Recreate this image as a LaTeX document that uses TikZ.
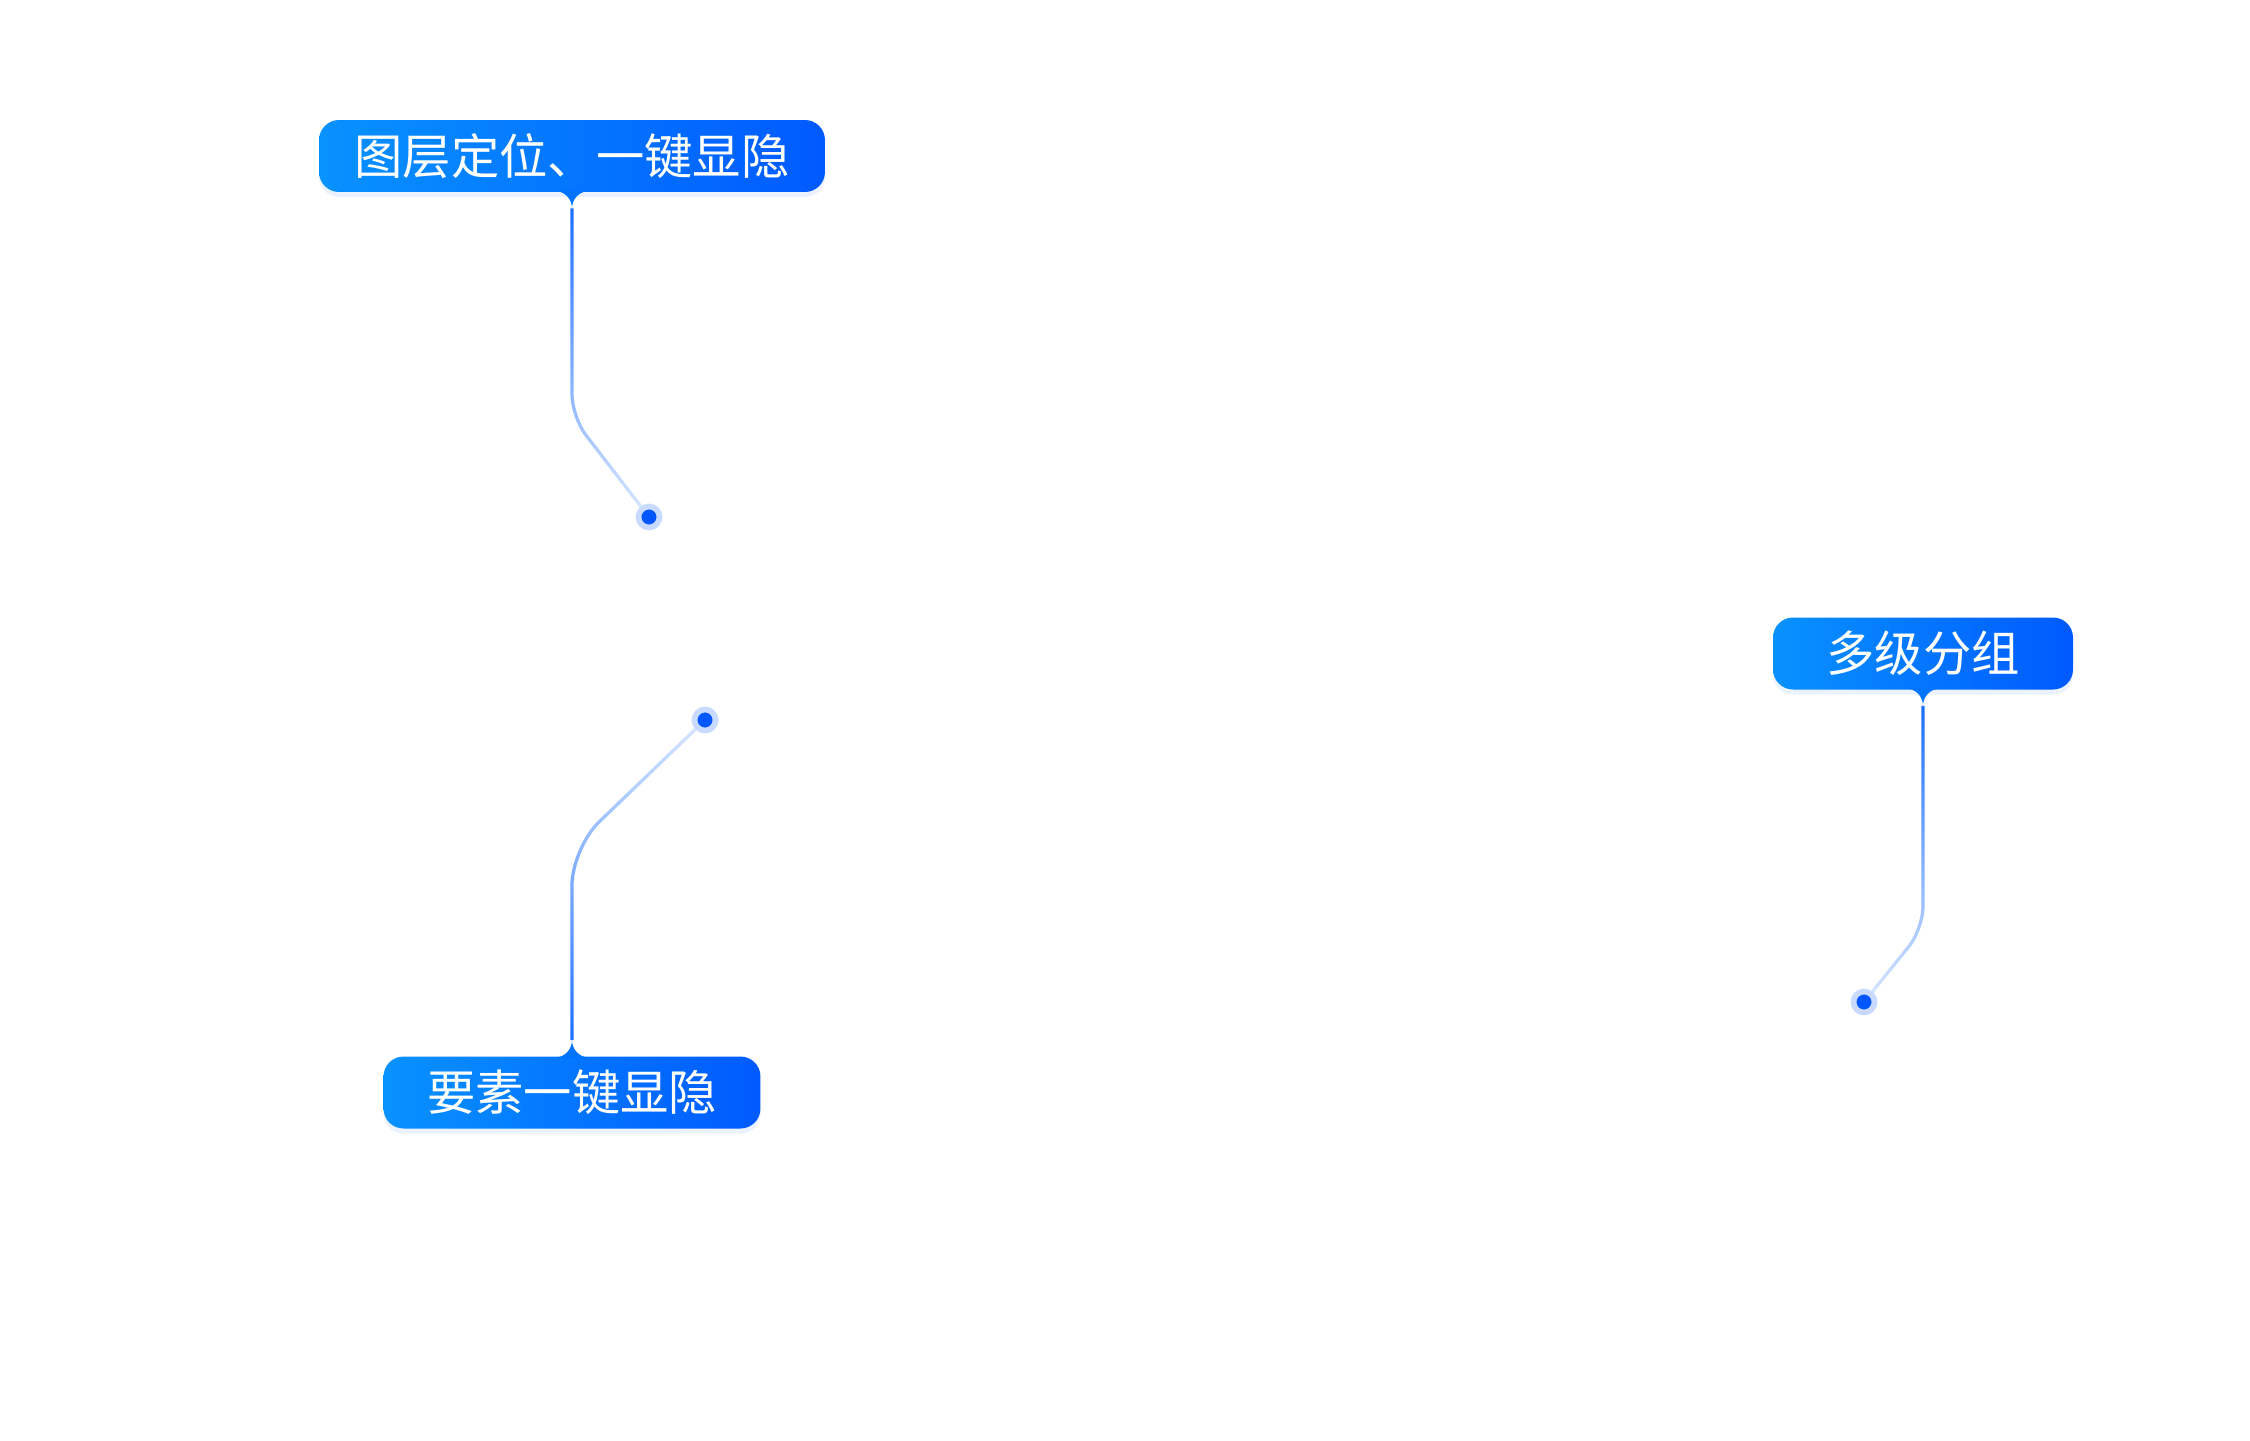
\documentclass[tikz,border=0pt]{standalone}
\usepackage{fontspec}
\newfontfamily\cjk{Noto Sans CJK SC}
\usepackage{tikz}
\usetikzlibrary{positioning,calc,fadings,shadows}
\usepackage{xcolor}
\definecolor{boxleft}{RGB}{8,146,255}
\definecolor{boxright}{RGB}{0,90,255}
\definecolor{tipblue}{RGB}{0,116,255}
\definecolor{linkblue}{RGB}{26,110,255}
\definecolor{dotblue}{RGB}{0,86,255}
\definecolor{haloblue}{RGB}{200,218,255}
\tikzfading[name=linkfade,top color=transparent!0,bottom color=transparent!82]
\tikzset{
  tagbox/.style={rounded corners=0.4cm,left color=boxleft,right color=boxright,
    minimum height=1.44cm,minimum width=#1,inner sep=0pt,text=white,
    font=\cjk\fontsize{27.5}{30}\selectfont,
    drop shadow={shadow xshift=0cm,shadow yshift=-0.1cm,opacity=0.08,fill=boxright}},
  spot/.style={circle,fill=dotblue,draw=haloblue,line width=0.115cm,minimum size=0.42cm,inner sep=0pt},
  link/.style={draw=linkblue,line width=0.065cm,path fading=linkfade},
}

\begin{document}
\begin{tikzpicture}[x=0.02cm,y=-0.02cm]
    \useasboundingbox (0,0) rectangle (2250,1440);
    % Labels
    \node[tagbox=10.12cm] (l1) at (572,156) {图层定位、一键显隐};
    \node[tagbox=7.54cm] (l2) at (572,1092.5) {要素一键显隐};
    \node[tagbox=6cm] (l3) at (1923,653.5) {多级分组};
    % Pointers below / above the labels
    \coordinate (t1) at ([yshift=-0.32cm]l1.south);
    \coordinate (t2) at ([yshift=0.32cm]l2.north);
    \coordinate (t3) at ([yshift=-0.32cm]l3.south);
    \fill[tipblue] ([xshift=-0.36cm,yshift=0.03cm]l1.south) .. controls +(0.22cm,0) and +(0,0.18cm) .. (t1)
      .. controls +(0,0.18cm) and +(-0.22cm,0) .. ([xshift=0.36cm,yshift=0.03cm]l1.south) -- cycle;
    \fill[tipblue] ([xshift=-0.36cm,yshift=-0.03cm]l2.north) .. controls +(0.22cm,0) and +(0,-0.18cm) .. (t2)
      .. controls +(0,-0.18cm) and +(-0.22cm,0) .. ([xshift=0.36cm,yshift=-0.03cm]l2.north) -- cycle;
    \fill[tipblue] ([xshift=-0.36cm,yshift=0.03cm]l3.south) .. controls +(0.22cm,0) and +(0,0.18cm) .. (t3)
      .. controls +(0,0.18cm) and +(-0.22cm,0) .. ([xshift=0.36cm,yshift=0.03cm]l3.south) -- cycle;
    % Spots
    \node[spot] (d1) at (649,517) {};
    \node[spot] (d2) at (705,720) {};
    \node[spot] (d3) at (1864,1002) {};
    % Bends
    \coordinate (b1) at (572,417);
    \coordinate (b2) at (572,848);
    \coordinate (b3) at (1923,929);
    % Connectors
    \path[link,rounded corners=0.45cm] (t1) -- (b1) -- (d1);
    \path[link,rounded corners=0.75cm,fading angle=180] (t2) -- (b2) -- (d2);
    \path[link,rounded corners=0.45cm] (t3) -- (b3) -- (d3);
  \end{tikzpicture}
\end{document}
